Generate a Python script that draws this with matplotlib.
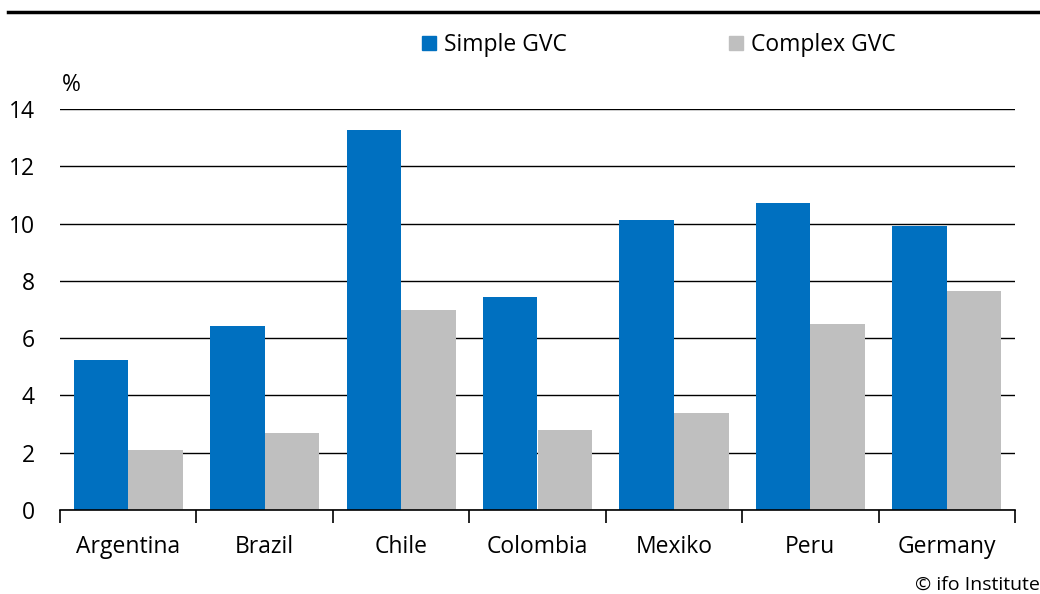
import matplotlib
matplotlib.use("Agg")
import matplotlib.pyplot as plt
import numpy as np
from matplotlib.lines import Line2D
from matplotlib.patches import Patch

plt.rcParams['font.family'] = ['Open Sans', 'DejaVu Sans']

countries = ["Argentina", "Brazil", "Chile", "Colombia", "Mexiko", "Peru", "Germany"]
simple_gvc = [5.25, 6.42, 13.27, 7.45, 10.13, 10.72, 9.92]
complex_gvc = [2.10, 2.69, 6.98, 2.79, 3.39, 6.49, 7.65]
yticks = [0, 2, 4, 6, 8, 10, 12, 14]

blue = "#0070C0"
gray = "#BFBFBF"
fs = 16.5

fig = plt.figure(figsize=(10.4, 5.94), dpi=100)
ax = fig.add_axes([60/1040, 1-510/594, (1015-60)/1040, (510-109)/594])

x = np.arange(len(countries))
w = 0.4
ax.bar(x - w/2, simple_gvc, width=w, color=blue, zorder=3)
ax.bar(x + w/2, complex_gvc, width=w, color=gray, zorder=3)

ax.set_xlim(-0.5, len(countries) - 0.5)
ax.set_ylim(0, 14)
ax.set_yticks(yticks)
ax.set_yticklabels([str(v) for v in yticks], fontsize=fs)
ax.yaxis.grid(True, color="black", linewidth=1.0, zorder=0)
ax.tick_params(axis='y', length=0, pad=18)

ax.set_xticks(x)
ax.set_xticklabels(countries, fontsize=fs)
ax.tick_params(axis='x', length=0, pad=18)
ax.set_xticks(np.arange(len(countries) + 1) - 0.5, minor=True)
ax.tick_params(axis='x', which='minor', length=9, width=1.2, color="black")

for s in ["top", "right", "left"]:
    ax.spines[s].set_visible(False)
ax.spines["bottom"].set_linewidth(1.2)
ax.spines["bottom"].set_zorder(4)

ax.text(62/1040, 1-85/594, "%", transform=fig.transFigure, fontsize=fs, va="center", ha="left")

handles = [Patch(color=blue, label="Simple GVC"), Patch(color=gray, label="Complex GVC")]
fig.legend(handles=handles, loc="center left", bbox_to_anchor=(422/1040, 1-45/594), ncol=2,
           frameon=False, fontsize=fs, handlelength=0.6, handleheight=0.6,
           handletextpad=0.35, columnspacing=7.1, borderaxespad=0, borderpad=0)

fig.add_artist(Line2D([8/1040, 1.0], [1-12/594, 1-12/594], color="black", linewidth=2.5,
                      transform=fig.transFigure))

fig.text(1.0, 1-585/594, "© ifo Institute", fontsize=14, ha="right", va="center")

fig.savefig("out.png", dpi=100)
